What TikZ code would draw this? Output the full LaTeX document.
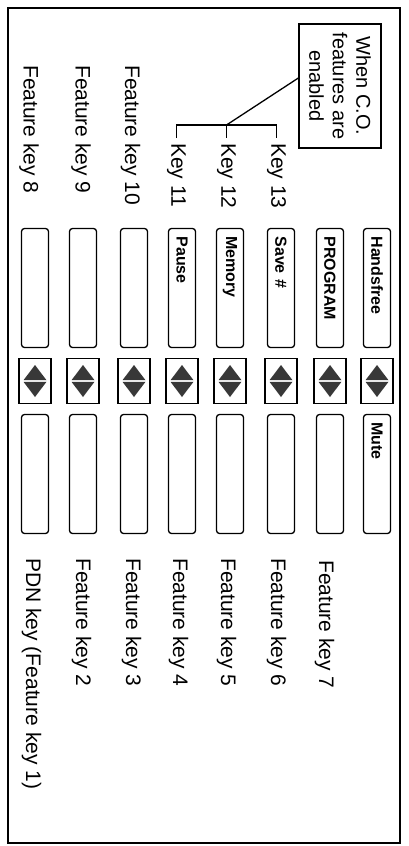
\documentclass[tikz,border=0pt]{standalone}
\usepackage{fontspec}
\setmainfont{Liberation Sans}
\usepackage{tikz}
\usetikzlibrary{positioning}

\begin{document}
\begin{tikzpicture}[x=1pt, y=-1pt,
  lbl/.style={rotate=-90, anchor=west, inner sep=0pt, font=\fontsize{21}{24}\selectfont},
  btn/.style={draw, line width=1.3pt, rounded corners=3pt, rotate=-90, minimum height=27pt, text width=103pt, inner xsep=8pt, align=left, font=\fontsize{16}{18}\selectfont\bfseries},
  rock/.style={draw, line width=1.3pt, minimum width=32pt, minimum height=45pt, inner sep=0pt},
  tri/.style={fill=black!78},
  link/.style={line width=1.3pt},
  note/.style={draw, line width=1.3pt, rotate=-90, minimum width=124pt, minimum height=82pt, align=center, font=\fontsize{20}{23.5}\selectfont}]
  \useasboundingbox (0,0) rectangle (409,846);
  \draw[line width=1.5pt] (8,8) rectangle (400,843);
  % keys: top button, rocker, bottom button
  \foreach \i/\x/\ta/\tb in {1/35/{}/{}, 2/83/{}/{}, 3/134/{}/{}, 4/182/Pause/{}, 5/230/Memory/{}, 6/281/Save \#/{}, 7/330/PROGRAM/{}, 8/377/Handsfree/Mute} {
    \node[btn] (top\i) at (\x,288) {\ta};
    \node[rock] (rock\i) at (\x,381) {};
    \node[btn] (bot\i) at (\x,474) {\tb};
    \fill[tri] ([shift={(-11.5,-0.8)}]rock\i.center) -- ++(11.5,-15.2) -- ++(11.5,15.2) -- cycle;
    \fill[tri] ([shift={(-11.5,0.8)}]rock\i.center) -- ++(11.5,15.2) -- ++(11.5,-15.2) -- cycle;
  }
  % labels
  \node[lbl] (fk8) at (29,65) {Feature key 8};
  \node[lbl] (fk9) at (81,65) {Feature key 9};
  \node[lbl] (fk10) at (130.5,65) {Feature key 10};
  \node[lbl] (k11) at (176.5,143) {Key 11};
  \node[lbl] (k12) at (226.5,143) {Key 12};
  \node[lbl] (k13) at (276.5,143) {Key 13};
  \node[lbl] (pdn) at (31.5,558) {PDN key (Feature key 1)};
  \node[lbl] (fk2) at (81.5,558) {Feature key 2};
  \node[lbl] (fk3) at (131.5,558) {Feature key 3};
  \node[lbl] (fk4) at (178.5,558) {Feature key 4};
  \node[lbl] (fk5) at (226.5,558) {Feature key 5};
  \node[lbl] (fk6) at (276.5,558) {Feature key 6};
  \node[lbl] (fk7) at (324.5,560) {Feature key 7};
  % C.O. note
  \node[note] (co) at (340,86) {When C.O.\\features are\\enabled};
  \coordinate (brk) at ([yshift=18pt]k12.west);
  \draw[link] ([yshift=5pt]k11.west) |- (brk) -| ([yshift=5pt]k13.west);
  \draw[link] (brk) -- ([yshift=5pt]k12.west);
  \draw[link] (brk) -- ([yshift=8pt]co.south);
\end{tikzpicture}
\end{document}
